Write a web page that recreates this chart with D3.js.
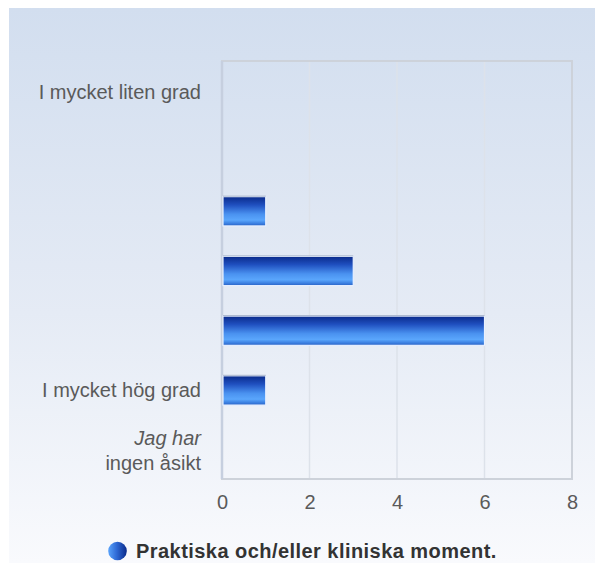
<!DOCTYPE html>
<html><head><meta charset="utf-8">
<script src="https://cdn.jsdelivr.net/npm/d3@7"></script>
<style>body{margin:0;background:#fff;}svg{display:block;}</style>
</head><body>
<svg id="c" width="595" height="563"></svg>
<script>
const categories = ["I mycket liten grad", "", "", "", "", "I mycket hög grad", "Jag har|ingen åsikt"];
const values = [0, 0, 1, 3, 6, 1, 0];
const xTicks = [0, 2, 4, 6, 8];
const seriesName = "Praktiska och/eller kliniska moment.";

const W = 595, H = 563;
const m = {left: 222, right: 572, top: 61, bottom: 479};
const svg = d3.select("#c");
const defs = svg.append("defs");

const bg = defs.append("linearGradient").attr("id","bg").attr("x1",0).attr("y1",0).attr("x2",0).attr("y2",1);
bg.append("stop").attr("offset","0%").attr("stop-color","#d2deef");
bg.append("stop").attr("offset","55%").attr("stop-color","#e5ebf5");
bg.append("stop").attr("offset","100%").attr("stop-color","#f9fafd");

const bar = defs.append("linearGradient").attr("id","bar").attr("x1",0).attr("y1",0).attr("x2",0).attr("y2",1);
[["0%","#0a2a8a"],["28%","#1f4fbf"],["60%","#4a92f0"],["80%","#5aa6fc"],["92%","#3a7ee0"],["100%","#2a62c4"]]
  .forEach(([o,c]) => bar.append("stop").attr("offset",o).attr("stop-color",c));

const leg = defs.append("linearGradient").attr("id","leg").attr("x1",0).attr("y1",0).attr("x2",1).attr("y2",0);
[["0%","#5aa4fb"],["45%","#2f6ad6"],["100%","#0a2a8a"]].forEach(([o,c]) => leg.append("stop").attr("offset",o).attr("stop-color",c));

svg.append("rect").attr("x",9).attr("y",8).attr("width",W-9).attr("height",H-8).attr("fill","url(#bg)");

const x = d3.scaleLinear().domain([0, 8]).range([m.left, m.right]);
const y = d3.scaleBand().domain(d3.range(categories.length)).range([m.top, m.bottom]).paddingInner(0.51).paddingOuter(0.255);

// gridlines
svg.append("g").selectAll("line").data(xTicks.slice(1, -1)).join("line")
  .attr("x1", d => x(d)).attr("x2", d => x(d)).attr("y1", m.top).attr("y2", m.bottom)
  .attr("stroke", "#dde2ea").attr("stroke-width", 1.5);

// frame
svg.append("rect").attr("x", m.left).attr("y", m.top).attr("width", m.right - m.left).attr("height", m.bottom - m.top)
  .attr("fill", "none").attr("stroke", "#cdd2da").attr("stroke-width", 2);
svg.append("line").attr("x1", m.left).attr("x2", m.left).attr("y1", m.top).attr("y2", m.bottom)
  .attr("stroke", "#c6cfdf").attr("stroke-width", 2.5);

// bars
const bars = svg.append("g").selectAll("g").data(values.map((v,i)=>({v,i}))).join("g").filter(d => d.v > 0);
bars.append("rect")
  .attr("x", m.left + 1).attr("y", d => y(d.i) + 1).attr("width", d => x(d.v) - m.left - 1).attr("height", y.bandwidth())
  .attr("fill", "url(#bar)").attr("stroke", "#e8f0ff").attr("stroke-width", 1.2);
bars.append("line")
  .attr("x1", m.left + 1).attr("x2", d => x(d.v)).attr("y1", d => y(d.i) + 0.5).attr("y2", d => y(d.i) + 0.5)
  .attr("stroke", "#aab6cc").attr("stroke-width", 1);

// category labels
const FONT = "Liberation Sans, Arial, sans-serif";
const lab = svg.append("g").attr("font-family", FONT).attr("font-size", 20)
  .attr("fill", "#5a5a5a").attr("text-anchor", "end");
categories.forEach((c, i) => {
  if (!c) return;
  const cy = y(i) + y.bandwidth() / 2 + 1;
  const parts = c.split("|");
  if (parts.length === 1) {
    lab.append("text").attr("x", 201).attr("y", cy).attr("dy", "0.35em").text(c);
  } else {
    lab.append("text").attr("x", 201).attr("y", cy - 12).attr("dy", "0.35em").attr("font-style", "italic").text(parts[0]);
    lab.append("text").attr("x", 201).attr("y", cy + 13).attr("dy", "0.35em").text(parts[1]);
  }
});

// x axis labels
const ax = d3.axisBottom(x).tickValues(xTicks).tickSize(0).tickPadding(16);
const axg = svg.append("g").attr("transform", `translate(0,${m.bottom})`).call(ax);
axg.select(".domain").remove();
axg.selectAll("text").attr("font-family", FONT).attr("font-size", 20).attr("fill", "#5a5a5a");

// legend
svg.append("circle").attr("cx", 117.5).attr("cy", 551).attr("r", 9.3).attr("fill", "url(#leg)");
svg.append("text").attr("x", 136).attr("y", 558).attr("font-family", FONT)
  .attr("font-weight", "bold").attr("font-size", 20).attr("letter-spacing", 0.45).attr("fill", "#333").text(seriesName);
</script>
</body></html>
